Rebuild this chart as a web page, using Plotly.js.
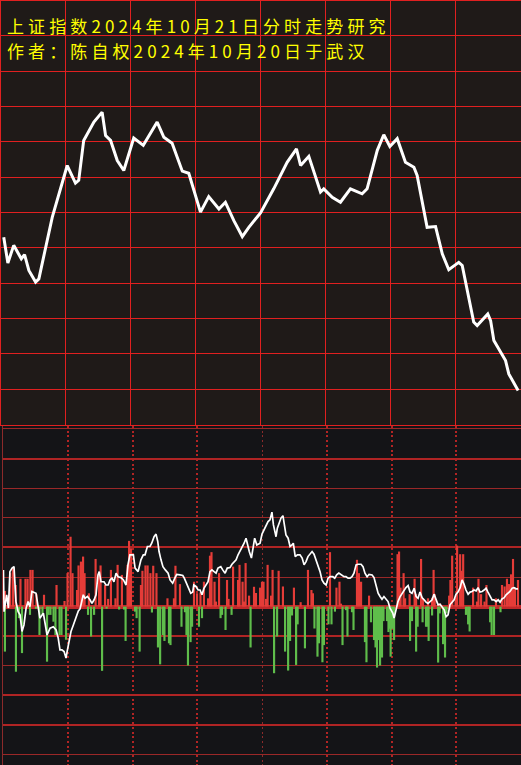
<!DOCTYPE html>
<html>
<head>
<meta charset="utf-8">
<script src="https://cdn.plot.ly/plotly-3.0.1.min.js"></script>
<style>
html,body{margin:0;padding:0;background:#141417;}
#chart{width:521px;height:765px;}
.annotation-text{letter-spacing:4.1px;}
</style>
</head>
<body>
<div id="chart"></div>
<script>
// ---- Titles ----
var titleLine1 = "上证指数2024年10月21日分时走势研究";
var titleLine2 = "作者：陈自权2024年10月20日于武汉";

// ---- Upper panel: price path (minute of session, grid units) ----
var priceMinute = [1.5,3.4,6.1,8.0,9.6,11.1,13.1,16.2,17.7,23.9,
  30.8,34.6,36.1,38.4,43.1,46.9,48.5,50.8,53.9,56.9,
  61.5,65.9,72.3,75.4,79.2,83.9,86.9,92.3,96.1,100.8,
  103.8,107.7,111.6,114.6,120.0,126.1,132.3,136.6,138.5,142.3,
  147.7,149.2,153.1,156.9,161.5,166.9,169.2,173.9,176.9,179.7,
  183.1,186.9,190.8,192.3,196.9,200.8,203.9,206.9,211.5,213.1,
  218.4,220.0,224.9,226.2,227.7,233.1,234.6,238.9];
var priceValue = [5.30,4.57,5.07,4.88,4.69,4.81,4.36,4.03,4.12,5.87,
  7.33,6.83,6.91,8.04,8.56,8.84,8.18,8.04,7.47,7.19,
  8.11,7.90,8.56,8.13,7.96,7.17,7.11,6.01,6.45,6.10,
  6.29,5.77,5.32,5.58,5.99,6.67,7.42,7.80,7.33,7.59,
  6.58,6.67,6.43,6.29,6.67,6.53,6.67,7.76,8.20,7.87,
  8.09,7.42,7.28,7.05,5.58,5.60,4.83,4.38,4.59,4.50,
  2.90,2.80,3.13,2.94,2.38,1.81,1.43,0.96];

// ---- Lower panel: up bars ----
var upMinute = [0.9,3.3,4.6,5.9,8.1,10.4,11.4,12.7,13.7,15.5,
  19.0,24.8,28.5,29.9,31.3,32.2,34.3,35.0,36.1,37.1,
  37.8,39.8,42.9,44.5,45.2,47.3,48.7,50.0,52.1,53.1,
  55.1,57.7,58.4,59.3,63.9,64.6,66.0,67.0,68.3,69.6,
  71.1,76.2,79.2,79.9,82.0,88.5,89.9,91.5,93.1,95.0,
  95.9,96.6,98.0,98.7,100.1,103.8,104.5,106.6,108.9,109.6,
  111.0,111.7,112.4,114.0,116.3,117.2,119.1,120.0,120.7,121.9,
  122.6,124.2,124.9,127.7,129.7,134.8,137.9,141.3,142.9,143.6,
  151.5,154.5,155.9,156.6,164.0,164.9,165.9,169.6,182.8,183.5,
  184.2,185.6,186.3,188.4,190.7,191.4,193.7,194.6,196.9,198.8,
  199.5,200.0,202.5,206.7,207.3,208.1,209.7,210.4,211.8,212.5,
  213.2,217.8,219.6,220.3,221.5,223.1,224.0,228.4,231.2,232.4,
  233.5,234.5,235.4,236.3,237.2,238.6];
var upValue = [0.53,1.13,1.30,0.73,0.94,0.94,0.94,1.24,1.24,0.42,
  0.40,0.73,0.19,1.13,2.36,1.13,0.56,1.39,1.52,1.69,
  1.13,0.45,1.61,1.13,1.39,0.73,0.26,1.24,0.28,1.41,
  1.07,1.41,2.22,1.97,0.73,1.21,1.39,1.39,1.13,1.38,
  1.13,0.28,0.28,1.38,0.76,0.84,0.45,0.48,0.84,0.28,
  1.72,1.84,0.84,0.17,1.13,0.90,0.26,1.35,0.90,1.41,
  0.84,0.17,1.47,0.37,0.67,0.46,0.64,0.84,0.84,0.26,
  1.41,0.37,1.24,1.21,0.68,0.64,0.15,1.24,0.56,0.45,
  1.84,0.64,0.84,0.10,1.58,1.13,0.84,0.37,1.77,1.86,
  0.64,1.13,0.28,0.42,0.94,0.42,1.61,0.28,0.28,0.30,
  1.24,0.42,0.10,0.37,0.90,1.72,0.30,2.06,1.77,1.21,
  1.77,0.64,0.17,0.94,0.42,0.17,0.73,0.28,0.73,0.68,
  0.94,0.76,1.09,1.61,0.64,0.90];

// ---- Lower panel: down bars ----
var downMinute = [0.9,6.0,7.4,8.8,12.5,15.3,16.9,18.3,20.4,21.1,
  22.0,23.4,24.3,26.2,27.1,29.2,39.4,40.8,42.2,45.9,
  48.0,53.8,56.1,56.8,61.2,61.9,63.3,69.0,71.8,72.8,
  74.1,74.8,76.9,77.6,82.7,84.3,85.0,85.7,86.9,87.6,
  90.8,92.2,100.8,101.5,103.1,105.9,114.7,125.6,127.0,130.7,
  132.1,133.0,133.9,135.8,136.5,139.9,144.3,145.7,146.4,148.0,
  148.7,150.8,152.2,153.8,157.3,158.9,159.6,161.7,162.4,167.7,
  168.4,170.5,171.9,172.6,173.3,174.0,174.7,175.6,176.3,177.9,
  178.6,179.1,179.6,180.2,181.2,188.6,189.5,191.4,192.1,194.4,
  196.0,196.7,197.2,198.8,201.6,202.3,203.9,204.8,205.5,214.5,
  215.5,216.2,225.7,226.4,227.5,230.5];
var downValue = [-1.52,-2.20,-0.39,-1.57,-0.28,-0.07,-0.96,-0.28,-1.86,-0.28,
  -0.28,-0.51,-0.96,-0.96,-0.96,-1.12,-0.28,-1.01,-0.28,-2.17,
  -0.07,-0.10,-0.10,-1.16,-0.17,-0.39,-1.52,-0.20,-1.38,-1.95,
  -0.96,-1.16,-1.24,-1.30,-0.68,-0.19,-0.96,-1.99,-1.20,-0.68,
  -0.68,-0.39,-0.39,-0.28,-0.79,-0.28,-1.38,-2.25,-1.01,-1.52,
  -2.16,-1.16,-0.30,-1.97,-0.60,-1.41,-0.74,-1.69,-1.24,-1.88,
  -1.30,-0.60,-0.60,-0.17,-1.30,-0.12,-1.01,-0.19,-0.79,-1.20,
  -1.88,-0.53,-1.13,-1.38,-2.06,-1.13,-1.99,-1.72,-0.49,-0.49,
  -0.86,-0.75,-1.69,-0.75,-1.13,-1.16,-0.49,-1.52,-0.68,-0.53,
  -0.68,-0.68,-1.16,-0.30,-1.89,-0.23,-1.27,-1.72,-0.23,-0.28,
  -0.60,-0.84,-0.53,-0.96,-0.96,-0.19];

// ---- Lower panel: white indicator line ----
var lineMinute = [0.2,0.5,1.7,2.5,3.2,4.2,5.1,5.6,6.0,7.0,
  7.9,8.8,9.7,10.7,11.6,12.5,13.4,15.3,16.2,17.1,
  18.7,19.5,20.4,21.8,23.3,24.6,25.6,26.4,27.3,28.3,
  29.2,29.7,30.6,31.5,32.6,33.8,34.9,35.7,36.5,37.2,
  38.0,39.1,40.3,41.2,42.2,43.1,44.0,44.6,45.4,46.8,
  47.7,48.7,49.6,50.5,51.4,52.4,53.3,54.7,55.8,57.0,
  57.9,58.8,59.8,
  60.4,61.2,62.6,63.9,65.0,65.8,66.9,68.1,68.9,70.0,
  70.9,71.7,72.3,73.2,74.1,75.2,76.5,77.4,78.6,79.6,
  80.5,82.0,83.3,84.0,85.1,86.0,87.0,87.9,88.4,89.4,
  90.4,91.3,92.2,93.1,94.1,95.0,95.9,96.8,97.8,98.7,
  99.6,100.9,101.8,102.9,103.9,105.2,106.1,107.0,108.0,108.9,
  109.8,110.7,111.7,112.6,113.2,114.1,115.1,115.7,116.6,117.6,
  119.1,120.0,
  120.9,121.9,122.8,123.7,124.6,125.3,126.0,126.5,127.1,127.9,
  128.8,129.7,130.7,131.1,132.1,133.0,133.9,134.5,135.4,136.4,
  137.6,138.6,139.5,140.4,141.3,142.3,143.2,144.1,145.0,146.0,
  146.9,147.8,148.7,149.7,150.6,151.5,152.8,153.7,154.6,155.6,
  156.8,158.0,158.9,159.9,160.8,161.7,162.6,163.6,164.5,165.9,
  166.8,167.7,168.7,169.6,171.0,171.9,172.8,173.8,174.7,175.6,
  176.5,177.5,178.4,179.3,
  180.6,181.2,182.1,183.0,184.0,184.9,185.8,186.7,187.7,188.6,
  189.5,190.5,191.4,192.3,193.2,194.2,195.1,196.0,196.9,197.9,
  198.8,199.7,200.6,201.6,202.5,203.4,204.4,205.3,206.2,207.1,
  208.1,209.0,209.9,210.8,211.8,212.7,213.6,214.5,215.5,216.4,
  217.3,218.2,219.2,220.1,221.0,222.0,222.9,223.8,224.7,225.7,
  226.6,227.5,228.5,229.4,230.3,231.2,232.2,233.1,234.0,234.9,
  235.9,236.8,237.7,238.6];
var lineValue = [1.24,-0.17,0.40,-0.05,1.18,1.30,1.35,0.68,0.17,-0.17,
  -0.28,-0.84,-0.62,-0.05,0.17,0.00,0.51,0.45,0.06,-0.39,
  -0.22,-0.51,-0.96,-0.73,-0.68,-0.79,-1.07,-1.46,-1.46,-1.52,
  -1.74,-1.52,-1.18,-0.84,-0.62,-0.39,-0.15,-0.08,0.17,0.40,
  0.28,0.34,0.23,0.11,0.23,0.40,1.07,1.18,0.84,0.84,
  0.73,0.73,0.90,0.96,0.84,1.13,1.01,0.98,0.90,0.73,
  1.41,1.75,1.75,
  1.75,1.30,1.18,1.58,1.75,1.75,2.03,2.03,2.14,2.36,
  2.45,2.20,1.86,1.58,1.35,1.24,1.13,0.90,0.79,0.96,
  1.09,1.07,1.05,0.96,0.79,0.62,0.45,0.49,0.73,0.68,
  0.56,0.56,0.40,0.62,0.73,0.84,1.18,1.24,1.18,1.13,
  1.30,1.35,1.24,1.13,1.30,1.32,1.43,1.52,1.58,1.75,
  1.86,1.97,2.14,2.31,2.08,1.86,1.64,1.97,2.31,2.08,
  2.14,2.45,
  2.59,2.76,2.87,2.93,3.19,2.76,2.48,2.36,2.65,2.85,
  2.99,3.07,2.70,2.42,2.31,2.03,2.08,2.14,1.69,1.75,
  1.75,1.64,1.41,1.52,1.69,1.77,1.86,1.77,1.58,1.41,
  1.18,0.90,0.79,0.73,0.96,1.01,1.01,0.96,1.07,1.13,
  1.07,1.01,1.01,0.96,0.96,1.01,1.13,1.41,1.43,1.43,
  1.35,1.13,1.01,1.09,1.07,0.98,0.73,0.45,0.34,0.25,
  0.34,0.26,0.17,-0.05,
  -0.22,-0.39,-0.15,0.17,0.34,0.45,0.56,0.64,0.71,0.49,
  0.45,0.62,0.34,0.28,0.49,0.30,0.23,0.15,0.11,0.17,
  0.23,0.42,0.25,0.06,0.08,0.00,-0.11,-0.34,-0.28,0.06,
  0.17,0.23,0.42,0.49,0.64,0.90,0.76,0.56,0.42,0.49,
  0.51,0.56,0.53,0.64,0.49,0.51,0.56,0.62,0.49,0.34,
  0.23,0.23,0.17,0.23,0.15,0.26,0.30,0.40,0.45,0.51,
  0.62,0.64,0.60,0.60];

// ---- Grid tick values ----
var topTimeTicks = 30;
var lowerDottedTicks = [30,60,90,150,180,210];
var lowerSolidTicks = [120];
var lowerThickLevels = [5,2,-1,-3,-4];
var lowerThinLevels = [6,4,3,1,-2,-5];

var W = 521, H = 765;
var RED = '#e02020';

var traces = [
  {type:'scatter', mode:'lines', x:priceMinute, y:priceValue, xaxis:'x', yaxis:'y',
   line:{color:'#ffffff', width:3}, hoverinfo:'skip'},
  {type:'bar', x:upMinute, y:upValue, width:1.0, xaxis:'x2', yaxis:'y2',
   marker:{color:'#e53c38', line:{width:0}}, hoverinfo:'skip'},
  {type:'bar', x:downMinute, y:downValue, width:1.0, xaxis:'x2', yaxis:'y2',
   marker:{color:'#5fbd4b', line:{width:0}}, hoverinfo:'skip'},
  {type:'scatter', mode:'lines', x:lineMinute, y:lineValue, xaxis:'x2', yaxis:'y2',
   line:{color:'#ffffff', width:1.7}, hoverinfo:'skip'}
];

var titleFont = {family:'"Noto Sans CJK SC", sans-serif', size:17, color:'#ffff00'};

var layout = {
  width:W, height:H,
  margin:{l:0, r:0, t:0, b:0, pad:0},
  paper_bgcolor:'#141417',
  plot_bgcolor:'rgba(0,0,0,0)',
  showlegend:false,
  barmode:'overlay',
  xaxis:{domain:[0.5/W, 520.5/W], range:[0,240], anchor:'y',
    tickmode:'linear', tick0:0, dtick:topTimeTicks,
    showgrid:true, gridcolor:RED, gridwidth:1,
    showticklabels:false, ticks:'', zeroline:false,
    showline:true, mirror:true, linecolor:RED, linewidth:1, fixedrange:true},
  yaxis:{domain:[1-424.5/H, 1-0.5/H], range:[0,12], anchor:'x',
    tickmode:'linear', tick0:0, dtick:1,
    showgrid:true, gridcolor:RED, gridwidth:1,
    showticklabels:false, ticks:'', zeroline:false,
    showline:true, mirror:true, linecolor:RED, linewidth:1, fixedrange:true},
  xaxis2:{domain:[3/W, 1], range:[0,240], anchor:'y2',
    tickmode:'array', tickvals:lowerDottedTicks,
    showgrid:true, gridcolor:'#b22424', gridwidth:2, griddash:'2px,2.7px',
    minor:{tickmode:'array', tickvals:lowerSolidTicks, showgrid:true, gridcolor:'#8c2a2a', gridwidth:1, ticks:''},
    showticklabels:false, ticks:'', zeroline:false, showline:false, fixedrange:true},
  yaxis2:{domain:[0, 1-426/H], range:[-5.35,6.1], anchor:'x2',
    tickmode:'array', tickvals:lowerThickLevels,
    showgrid:true, gridcolor:'#b02424', gridwidth:2,
    minor:{tickmode:'array', tickvals:lowerThinLevels, showgrid:true, gridcolor:'#9a2828', gridwidth:1, ticks:''},
    zeroline:true, zerolinecolor:'#c0282a', zerolinewidth:4,
    showticklabels:false, ticks:'',
    showline:true, linecolor:'#8c2a2a', linewidth:1, fixedrange:true},
  shapes:[
    {type:'rect', xref:'paper', yref:'paper', x0:0, x1:1, y0:1-425/H, y1:1,
     fillcolor:'#1f1a18', line:{width:0}, layer:'below'}
  ],
  annotations:[
    {text:titleLine1, xref:'paper', yref:'paper', x:6/W, y:1-26/H,
     xanchor:'left', yanchor:'middle', showarrow:false, align:'left', borderpad:0,
     font:titleFont},
    {text:titleLine2, xref:'paper', yref:'paper', x:6/W, y:1-51/H,
     xanchor:'left', yanchor:'middle', showarrow:false, align:'left', borderpad:0,
     font:titleFont}
  ]
};

Plotly.newPlot('chart', traces, layout, {staticPlot:true, displayModeBar:false});
</script>
</body>
</html>
